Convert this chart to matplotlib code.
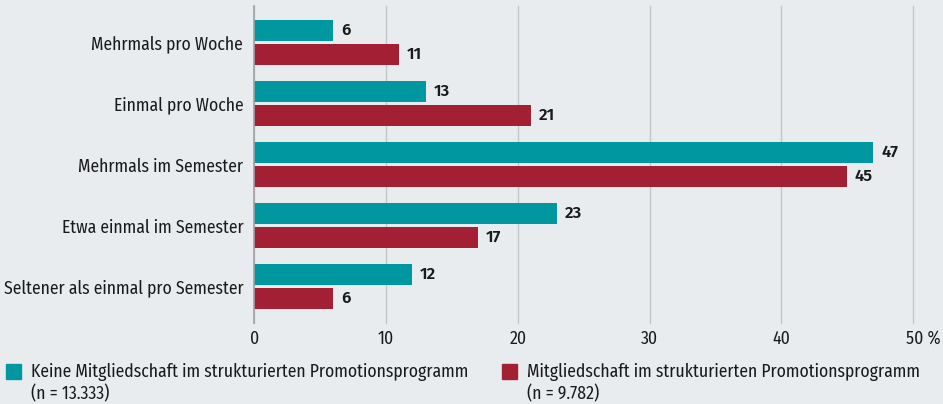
import matplotlib
matplotlib.use("Agg")
import matplotlib.pyplot as plt
import matplotlib.transforms as mtransforms
from matplotlib.patches import Rectangle
import numpy as np

categories = ["Mehrmals pro Woche", "Einmal pro Woche", "Mehrmals im Semester",
              "Etwa einmal im Semester", "Seltener als einmal pro Semester"]
keine = [6, 13, 47, 23, 12]
mitglied = [11, 21, 45, 17, 6]
xticks = [0, 10, 20, 30, 40, 50]
xticklabels = ["0", "10", "20", "30", "40", "50 %"]
legend_labels = ["Keine Mitgliedschaft im strukturierten Promotionsprogramm\n(n = 13.333)",
                 "Mitgliedschaft im strukturierten Promotionsprogramm\n(n = 9.782)"]

BG = "#e9ecef"
TEAL = "#0097a0"
RED = "#a31f33"
TXT = "#1a1a1a"
FONT = ["Fira Sans Condensed", "Barlow Semi Condensed", "Roboto Condensed",
        "Archivo Narrow", "DejaVu Sans"]
VALFONT = ["Fira Sans", "Fira Sans Condensed", "DejaVu Sans"]
plt.rcParams["font.family"] = FONT
FS = 12.7

W, H = 943, 404
fig = plt.figure(figsize=(W / 100, H / 100), dpi=100, facecolor=BG)
x0px, x50px, ytop, ybot = 254.3, 913.0, 6.0, 323.0
ax = fig.add_axes([x0px / W, 1 - ybot / H, (x50px - x0px) / W, (ybot - ytop) / H])
ax.set_facecolor(BG)

y = np.arange(len(categories))
bh = 0.344
off = 0.197
ax.barh(y - off, keine, height=bh, color=TEAL, zorder=3)
ax.barh(y + off, mitglied, height=bh, color=RED, zorder=3)

for vals, sgn in [(keine, -1), (mitglied, 1)]:
    for yi, v in zip(y, vals):
        ax.annotate(str(v), (v, yi + sgn * off), xytext=(5.6, 0), textcoords="offset points",
                    va="center", ha="left", fontsize=12, fontweight="semibold",
                    color=TXT, family=VALFONT)

ax.set_xlim(0, 50)
ax.set_ylim(4.598, -0.598)
ax.set_xticks(xticks)
ax.set_xticklabels(xticklabels, fontsize=FS, color=TXT)
ax.set_yticks(y)
ax.set_yticklabels(categories, fontsize=FS, color=TXT)
ax.tick_params(axis="both", length=0)
ax.tick_params(axis="x", pad=5)
ax.tick_params(axis="y", pad=8)
# keep the number of "50 %" centred on its gridline
lab50 = ax.get_xticklabels()[-1]
lab50.set_transform(lab50.get_transform() +
                    mtransforms.ScaledTranslation(10 / 100, 0, fig.dpi_scale_trans))

ax.grid(axis="x", color="#c4c6c8", linewidth=1, zorder=0)
for gl in ax.get_xgridlines():
    gl.set_clip_on(False)
ax.grid(axis="y", visible=False)
for s in ["top", "right", "bottom"]:
    ax.spines[s].set_visible(False)
ax.spines["left"].set_color("#a0a2a4")
ax.spines["left"].set_linewidth(1.2)
ax.spines["left"].set_zorder(4)

# legend
for (lx, col, lab) in [(6, TEAL, legend_labels[0]), (502, RED, legend_labels[1])]:
    fig.add_artist(Rectangle((lx / W, 1 - 379 / H), 15 / W, 15 / H,
                             transform=fig.transFigure, color=col))
    line1, line2 = lab.split("\n")
    fig.text((lx + 25) / W, 1 - 372 / H, line1, fontsize=FS, color=TXT,
             va="center", ha="left")
    fig.text((lx + 25) / W, 1 - 394 / H, line2, fontsize=FS, color=TXT,
             va="center", ha="left")

fig.savefig("out.png", dpi=100, facecolor=BG)
